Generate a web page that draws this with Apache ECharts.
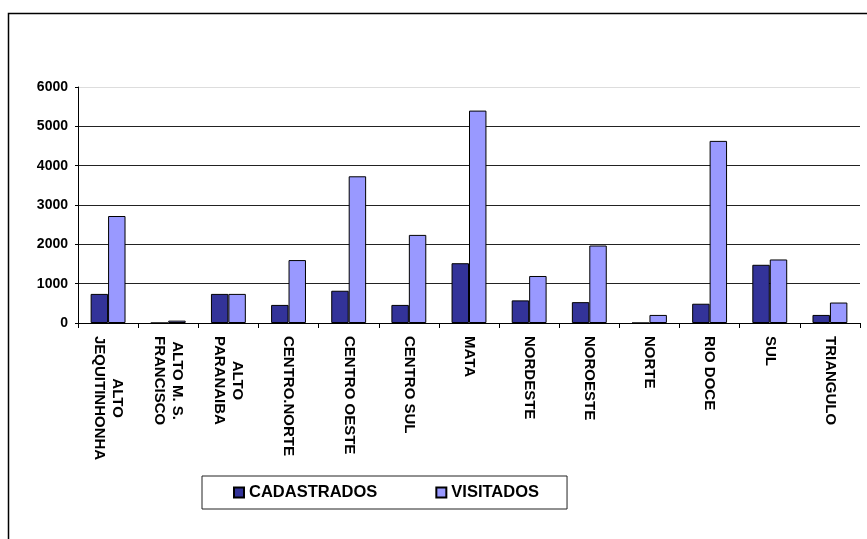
<!DOCTYPE html>
<html>
<head>
<meta charset="utf-8">
<script src="https://cdn.jsdelivr.net/npm/echarts@6/dist/echarts.min.js"></script>
<style>
html,body{margin:0;padding:0;background:#fff;}
#chart{width:867px;height:539px;}
</style>
</head>
<body>
<div id="chart"></div>
<script>
const categories = ["ALTO\nJEQUITINHONHA", "ALTO M. S.\nFRANCISCO", "ALTO\nPARANAIBA", "CENTRO.NORTE", "CENTRO OESTE", "CENTRO SUL", "MATA", "NORDESTE", "NOROESTE", "NORTE", "RIO DOCE", "SUL", "TRIANGULO"];
const cadastrados = [740, 0, 740, 460, 820, 460, 1520, 575, 530, 0, 490, 1480, 205];
const visitados = [2720, 60, 740, 1600, 3730, 2240, 5400, 1195, 1970, 205, 4630, 1615, 520];
const seriesNames = ["CADASTRADOS", "VISITADOS"];
const yTicks = {min: 0, max: 6000, interval: 1000};

const FONT = '"Liberation Sans", Arial, sans-serif';
const chart = echarts.init(document.getElementById('chart'), null, {renderer: 'canvas'});

const option = {
  backgroundColor: '#fff',
  animation: false,
  graphic: [{
    type: 'rect',
    shape: {x: 8.5, y: 13.5, width: 1000, height: 1000},
    style: {fill: 'none', stroke: '#000', lineWidth: 1.5},
    silent: true
  }],
  grid: {left: 78, right: 7, top: 87, bottom: 216, containLabel: false},
  legend: {
    left: 202, top: 476,
    orient: 'horizontal',
    data: seriesNames,
    icon: 'rect',
    itemWidth: 10, itemHeight: 10,
    itemGap: 58,
    padding: [8, 28, 8, 31],
    borderColor: '#222', borderWidth: 1,
    textStyle: {fontFamily: FONT, fontWeight: 'bold', fontSize: 16.5, color: '#000', lineHeight: 16}
  },
  xAxis: {
    type: 'category',
    data: categories,
    axisLine: {lineStyle: {color: '#000', width: 1}},
    axisTick: {show: true, length: 5, lineStyle: {color: '#000'}},
    axisLabel: {
      interval: 0,
      rotate: -90,
      margin: 13,
      color: '#000',
      fontFamily: FONT,
      fontWeight: 'bold',
      fontSize: 15,
      lineHeight: 18,
      formatter: function (v) {
        return v.split('\n').map(function (l) { return '{c|' + l + '}'; }).join('\n');
      },
      rich: {
        c: {align: 'center', fontFamily: FONT, fontWeight: 'bold', fontSize: 15, lineHeight: 18, color: '#000'}
      }
    }
  },
  yAxis: {
    type: 'value',
    min: yTicks.min, max: yTicks.max, interval: yTicks.interval,
    axisLine: {show: true, lineStyle: {color: '#000', width: 1}},
    axisTick: {show: true, length: 3, lineStyle: {color: '#000'}},
    axisLabel: {margin: 10, color: '#000', fontFamily: FONT, fontWeight: 'bold', fontSize: 14,
      formatter: function (v) { return String(v); }},
    splitLine: {show: true, lineStyle: {color: ['#222', '#222', '#222', '#222', '#222', '#222', '#ddd'], width: 1}}
  },
  series: [
    {
      name: seriesNames[0], type: 'bar', data: cadastrados,
      barGap: '0%', barCategoryGap: '42%',
      itemStyle: {color: '#333399', borderColor: '#000', borderWidth: 1}
    },
    {
      name: seriesNames[1], type: 'bar', data: visitados,
      barGap: '0%', barCategoryGap: '42%',
      itemStyle: {color: '#9999FF', borderColor: '#000', borderWidth: 1}
    }
  ]
};
chart.setOption(option);
</script>
</body>
</html>
